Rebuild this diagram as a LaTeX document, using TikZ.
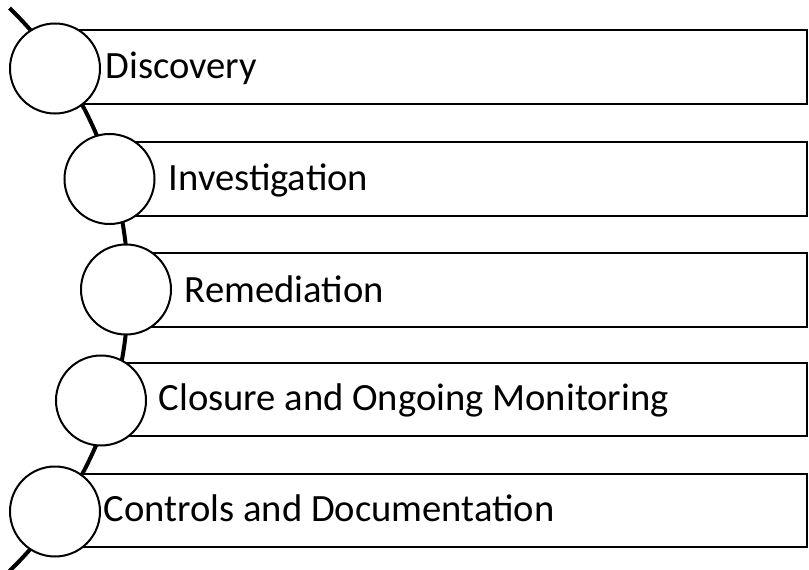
\documentclass[tikz,border=0pt]{standalone}
\usepackage{fontspec}
\setmainfont{Carlito}
\begin{document}
\begin{tikzpicture}[x=1bp,y=-1bp,
  bar/.style={draw=black,line width=2bp,fill=white},
  dot/.style={circle,draw=black,line width=2bp,fill=white,minimum size=90bp,inner sep=0pt},
  lbl/.style={anchor=base west,inner sep=0pt,font=\fontsize{38.6bp}{42bp}\selectfont},
  arcline/.style={draw=black,line width=4bp}]
\useasboundingbox (0,0) rectangle (809,570);
% curved spine
\coordinate (ctr) at (-264.7,289.5);
\coordinate (top) at ([shift={(-45.75:393)}]ctr);
\draw[arcline] (top) arc[start angle=-45.75,end angle=45.75,radius=393];
% bars
\draw[bar] (55,30.5) rectangle (807,104);
\draw[bar] (109.5,142) rectangle (807,216);
\draw[bar] (126,252.5) rectangle (807,326.5);
\draw[bar] (101,362.5) rectangle (807,436);
\draw[bar] (55,474) rectangle (807,547);
% circles
\node[dot] (c1) at (55,68.5) {};
\node[dot] (c2) at (109.5,179) {};
\node[dot] (c3) at (126,289.5) {};
\node[dot] (c4) at (101,400.5) {};
\node[dot] (c5) at (55,511.5) {};
% labels
\node[lbl] (t1) at (105.5,78.5) {Discovery};
\node[lbl] (t2) at (168.5,190.5) {Investigation};
\node[lbl] (t3) at (184.5,302) {Remediation};
\node[lbl] (t4) at (158.5,410) {Closure and Ongoing Monitoring};
\node[lbl] (t5) at (103.5,521) {Controls and Documentation};
\end{tikzpicture}
\end{document}
